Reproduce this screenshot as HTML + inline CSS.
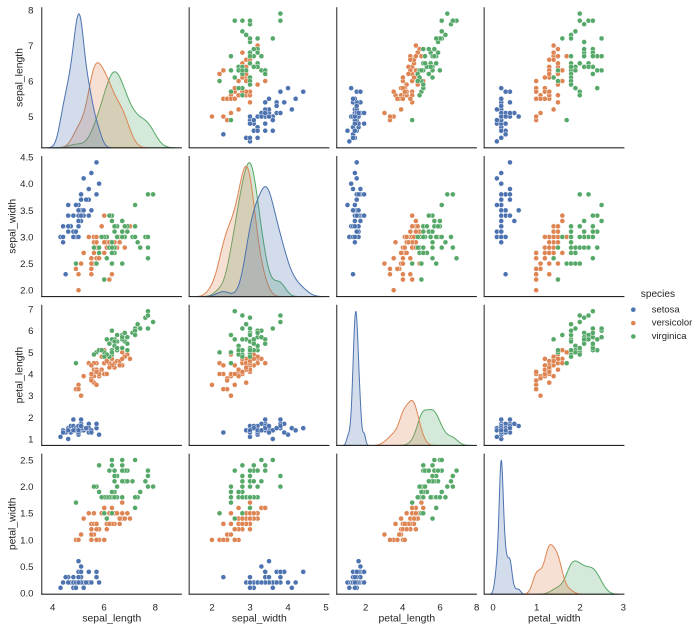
<!DOCTYPE html>
<html><head><meta charset="utf-8">
<style>
html,body{margin:0;padding:0;background:#fff;}
svg{display:block;}
text{font-family:"Liberation Sans",Arial,sans-serif;fill:#262626;}
.t{font-size:9.6px;}
.yt{text-anchor:end;}
.xt{text-anchor:middle;}
.lab{font-size:10.4px;text-anchor:middle;}
.lg{font-size:9.5px;}
</style></head><body>
<svg id="s" width="700" height="632" viewBox="0 0 700 632" xmlns="http://www.w3.org/2000/svg">
<g id="plots"></g>
<g id="spines"></g>
<g class="t yt">
<text x="33.5" y="10.04" dy=".36em">8</text>
<text x="33.5" y="45.55" dy=".36em">7</text>
<text x="33.5" y="81.05" dy=".36em">6</text>
<text x="33.5" y="116.56" dy=".36em">5</text>
<text x="33.5" y="157.07" dy=".36em">4.5</text>
<text x="33.5" y="183.7" dy=".36em">4.0</text>
<text x="33.5" y="210.3" dy=".36em">3.5</text>
<text x="33.5" y="236.9" dy=".36em">3.0</text>
<text x="33.5" y="263.56" dy=".36em">2.5</text>
<text x="33.5" y="290.2" dy=".36em">2.0</text>
<text x="33.5" y="309.02" dy=".36em">7</text>
<text x="33.5" y="330.7" dy=".36em">6</text>
<text x="33.5" y="352.3" dy=".36em">5</text>
<text x="33.5" y="374.0" dy=".36em">4</text>
<text x="33.5" y="395.7" dy=".36em">3</text>
<text x="33.5" y="417.3" dy=".36em">2</text>
<text x="33.5" y="439.0" dy=".36em">1</text>
<text x="33.5" y="459.99" dy=".36em">2.5</text>
<text x="33.5" y="486.6" dy=".36em">2.0</text>
<text x="33.5" y="513.2" dy=".36em">1.5</text>
<text x="33.5" y="539.9" dy=".36em">1.0</text>
<text x="33.5" y="566.5" dy=".36em">0.5</text>
<text x="33.5" y="593.1" dy=".36em">0.0</text>
</g>
<g class="t xt">
<text x="52.7" y="610.5">4</text>
<text x="104" y="610.5">6</text>
<text x="155.3" y="610.5">8</text>
<text x="212" y="610.5">2</text>
<text x="250" y="610.5">3</text>
<text x="288" y="610.5">4</text>
<text x="326" y="610.5">5</text>
<text x="365.7" y="610.5">2</text>
<text x="402.7" y="610.5">4</text>
<text x="440" y="610.5">6</text>
<text x="476.7" y="610.5">8</text>
<text x="493" y="610.5">0</text>
<text x="536.7" y="610.5">1</text>
<text x="580" y="610.5">2</text>
<text x="623.3" y="610.5">3</text>
</g>
<g class="lab">
<text x="111.8" y="621.5">sepal_length</text>
<text x="259.3" y="621.5">sepal_width</text>
<text x="406.8" y="621.5">petal_length</text>
<text x="554.3" y="621.5">petal_width</text>
<text transform="translate(22.5,77.5) rotate(-90)">sepal_length</text>
<text transform="translate(15.5,226.3) rotate(-90)">sepal_width</text>
<text transform="translate(22.5,375.1) rotate(-90)">petal_length</text>
<text transform="translate(15.5,523.9) rotate(-90)">petal_width</text>
</g>
<text x="657.9" y="297" style="font-size:10.1px;text-anchor:middle">species</text>
<circle cx="633.3" cy="309.7" r="2.5" fill="#4c72b0" stroke="#fff" stroke-width="0.45"/>
<circle cx="633.3" cy="323.1" r="2.5" fill="#dd8452" stroke="#fff" stroke-width="0.45"/>
<circle cx="633.3" cy="336.5" r="2.5" fill="#55a868" stroke="#fff" stroke-width="0.45"/>
<text class="lg" x="651.7" y="312.3">setosa</text>
<text class="lg" x="651.7" y="325.7">versicolor</text>
<text class="lg" x="651.7" y="339">virginica</text>
</svg>
<script>
const raw = "5.1 3.5 1.4 0.2|4.9 3.0 1.4 0.2|4.7 3.2 1.3 0.2|4.6 3.1 1.5 0.2|5.0 3.6 1.4 0.2|5.4 3.9 1.7 0.4|4.6 3.4 1.4 0.3|5.0 3.4 1.5 0.2|4.4 2.9 1.4 0.2|4.9 3.1 1.5 0.1|5.4 3.7 1.5 0.2|4.8 3.4 1.6 0.2|4.8 3.0 1.4 0.1|4.3 3.0 1.1 0.1|5.8 4.0 1.2 0.2|5.7 4.4 1.5 0.4|5.4 3.9 1.3 0.4|5.1 3.5 1.4 0.3|5.7 3.8 1.7 0.3|5.1 3.8 1.5 0.3|5.4 3.4 1.7 0.2|5.1 3.7 1.5 0.4|4.6 3.6 1.0 0.2|5.1 3.3 1.7 0.5|4.8 3.4 1.9 0.2|5.0 3.0 1.6 0.2|5.0 3.4 1.6 0.4|5.2 3.5 1.5 0.2|5.2 3.4 1.4 0.2|4.7 3.2 1.6 0.2|4.8 3.1 1.6 0.2|5.4 3.4 1.5 0.4|5.2 4.1 1.5 0.1|5.5 4.2 1.4 0.2|4.9 3.1 1.5 0.2|5.0 3.2 1.2 0.2|5.5 3.5 1.3 0.2|4.9 3.6 1.4 0.1|4.4 3.0 1.3 0.2|5.1 3.4 1.5 0.2|5.0 3.5 1.3 0.3|4.5 2.3 1.3 0.3|4.4 3.2 1.3 0.2|5.0 3.5 1.6 0.6|5.1 3.8 1.9 0.4|4.8 3.0 1.4 0.3|5.1 3.8 1.6 0.2|4.6 3.2 1.4 0.2|5.3 3.7 1.5 0.2|5.0 3.3 1.4 0.2|" +
"7.0 3.2 4.7 1.4|6.4 3.2 4.5 1.5|6.9 3.1 4.9 1.5|5.5 2.3 4.0 1.3|6.5 2.8 4.6 1.5|5.7 2.8 4.5 1.3|6.3 3.3 4.7 1.6|4.9 2.4 3.3 1.0|6.6 2.9 4.6 1.3|5.2 2.7 3.9 1.4|5.0 2.0 3.5 1.0|5.9 3.0 4.2 1.5|6.0 2.2 4.0 1.0|6.1 2.9 4.7 1.4|5.6 2.9 3.6 1.3|6.7 3.1 4.4 1.4|5.6 3.0 4.5 1.5|5.8 2.7 4.1 1.0|6.2 2.2 4.5 1.5|5.6 2.5 3.9 1.1|5.9 3.2 4.8 1.8|6.1 2.8 4.0 1.3|6.3 2.5 4.9 1.5|6.1 2.8 4.7 1.2|6.4 2.9 4.3 1.3|6.6 3.0 4.4 1.4|6.8 2.8 4.8 1.4|6.7 3.0 5.0 1.7|6.0 2.9 4.5 1.5|5.7 2.6 3.5 1.0|5.5 2.4 3.8 1.1|5.5 2.4 3.7 1.0|5.8 2.7 3.9 1.2|6.0 2.7 5.1 1.6|5.4 3.0 4.5 1.5|6.0 3.4 4.5 1.6|6.7 3.1 4.7 1.5|6.3 2.3 4.4 1.3|5.6 3.0 4.1 1.3|5.5 2.5 4.0 1.3|5.5 2.6 4.4 1.2|6.1 3.0 4.6 1.4|5.8 2.6 4.0 1.2|5.0 2.3 3.3 1.0|5.6 2.7 4.2 1.3|5.7 3.0 4.2 1.2|5.7 2.9 4.2 1.3|6.2 2.9 4.3 1.3|5.1 2.5 3.0 1.1|5.7 2.8 4.1 1.3|" +
"6.3 3.3 6.0 2.5|5.8 2.7 5.1 1.9|7.1 3.0 5.9 2.1|6.3 2.9 5.6 1.8|6.5 3.0 5.8 2.2|7.6 3.0 6.6 2.1|4.9 2.5 4.5 1.7|7.3 2.9 6.3 1.8|6.7 2.5 5.8 1.8|7.2 3.6 6.1 2.5|6.5 3.2 5.1 2.0|6.4 2.7 5.3 1.9|6.8 3.0 5.5 2.1|5.7 2.5 5.0 2.0|5.8 2.8 5.1 2.4|6.4 3.2 5.3 2.3|6.5 3.0 5.5 1.8|7.7 3.8 6.7 2.2|7.7 2.6 6.9 2.3|6.0 2.2 5.0 1.5|6.9 3.2 5.7 2.3|5.6 2.8 4.9 2.0|7.7 2.8 6.7 2.0|6.3 2.7 4.9 1.8|6.7 3.3 5.7 2.1|7.2 3.2 6.0 1.8|6.2 2.8 4.8 1.8|6.1 3.0 4.9 1.8|6.4 2.8 5.6 2.1|7.2 3.0 5.8 1.6|7.4 2.8 6.1 1.9|7.9 3.8 6.4 2.0|6.4 2.8 5.6 2.2|6.3 2.8 5.1 1.5|6.1 2.6 5.6 1.4|7.7 3.0 6.1 2.3|6.3 3.4 5.6 2.4|6.4 3.1 5.5 1.8|6.0 3.0 4.8 1.8|6.9 3.1 5.4 2.1|6.7 3.1 5.6 2.4|6.9 3.1 5.1 2.3|5.8 2.7 5.1 1.9|6.8 3.2 5.9 2.3|6.7 3.3 5.7 2.5|6.7 3.0 5.2 2.3|6.3 2.5 5.0 1.9|6.5 3.0 5.2 2.0|6.2 3.4 5.4 2.3|5.9 3.0 5.1 1.8";
const P = raw.split("|").map(l=>l.trim().split(/\s+/).map(Number));
const COL = ["#4c72b0","#dd8452","#55a868"];
const X0=[41.7,189.2,336.7,484.2], W=140.2, Y0=[7.2,156.0,304.8,453.6], H=140.6;
const NS="http://www.w3.org/2000/svg";
function el(tag, attrs, parent){const e=document.createElementNS(NS,tag);for(const k in attrs)e.setAttribute(k,attrs[k]);parent.appendChild(e);return e;}
const fac=Math.pow(50,-0.2);
const sp=[0,1,2].map(s=>P.slice(s*50,s*50+50));
function stdv(a){const m=a.reduce((x,y)=>x+y,0)/a.length;return Math.sqrt(a.reduce((x,y)=>x+(y-m)*(y-m),0)/(a.length-1));}
const bw=[], xl=[], yl=[];
for(let k=0;k<4;k++){
  bw[k]=[];let lo=Infinity,hi=-Infinity,dlo=Infinity,dhi=-Infinity;
  for(let s=0;s<3;s++){
    const a=sp[s].map(p=>p[k]);const b=fac*stdv(a);bw[k][s]=b;
    const mn=Math.min(...a),mx=Math.max(...a);
    lo=Math.min(lo,mn-3*b);hi=Math.max(hi,mx+3*b);
    dlo=Math.min(dlo,mn);dhi=Math.max(dhi,mx);
  }
  const r=hi-lo;xl[k]=[lo-0.05*r,hi+0.05*r];
  const dr=dhi-dlo;yl[k]=[dlo-0.05*dr,dhi+0.05*dr];
}
const g=document.getElementById("plots");
const fx=(i,v)=>X0[i]+W*(v-xl[i][0])/(xl[i][1]-xl[i][0]);
const fy=(j,v)=>Y0[j]+H*(yl[j][1]-v)/(yl[j][1]-yl[j][0]);
for(let j=0;j<4;j++)for(let i=0;i<4;i++){
  if(i===j){
    const curves=[];let mx=0;
    for(let s=0;s<3;s++){
      const a=sp[s].map(p=>p[i]);const b=bw[i][s];
      const lo=Math.min(...a)-3*b,hi=Math.max(...a)+3*b;const pts=[];
      for(let n=0;n<200;n++){
        const x=lo+(hi-lo)*n/199;let d=0;
        for(const v of a){const z=(x-v)/b;d+=Math.exp(-0.5*z*z);}
        d=d/(a.length*b*Math.sqrt(2*Math.PI))/3;
        pts.push([x,d]);if(d>mx)mx=d;
      }
      curves.push(pts);
    }
    const top=mx*1.05,base=Y0[j]+H;
    for(let s=2;s>=0;s--){
      const pts=curves[s];
      let d="M"+fx(i,pts[0][0]).toFixed(2)+","+base.toFixed(2);
      for(const p of pts)d+="L"+fx(i,p[0]).toFixed(2)+","+(base-H*p[1]/top).toFixed(2);
      d+="L"+fx(i,pts[pts.length-1][0]).toFixed(2)+","+base.toFixed(2)+"Z";
      el("path",{d:d,fill:COL[s],"fill-opacity":"0.25",stroke:COL[s],"stroke-width":"1","stroke-linejoin":"round"},g);
    }
  } else {
    P.forEach((p,n)=>{
      el("circle",{cx:fx(i,p[i]).toFixed(2),cy:fy(j,p[j]).toFixed(2),r:"2.5",fill:COL[Math.floor(n/50)],stroke:"#fff","stroke-width":"0.45"},g);
    });
  }
}
const sg=document.getElementById("spines");
for(let j=0;j<4;j++)for(let i=0;i<4;i++){
  el("line",{x1:X0[i],y1:Y0[j],x2:X0[i],y2:Y0[j]+H,stroke:"#555","stroke-width":"1.3"},sg);
  el("line",{x1:X0[i]-0.6,y1:Y0[j]+H,x2:X0[i]+W,y2:Y0[j]+H,stroke:"#262626","stroke-width":"1.1"},sg);
}
</script>
</body></html>
